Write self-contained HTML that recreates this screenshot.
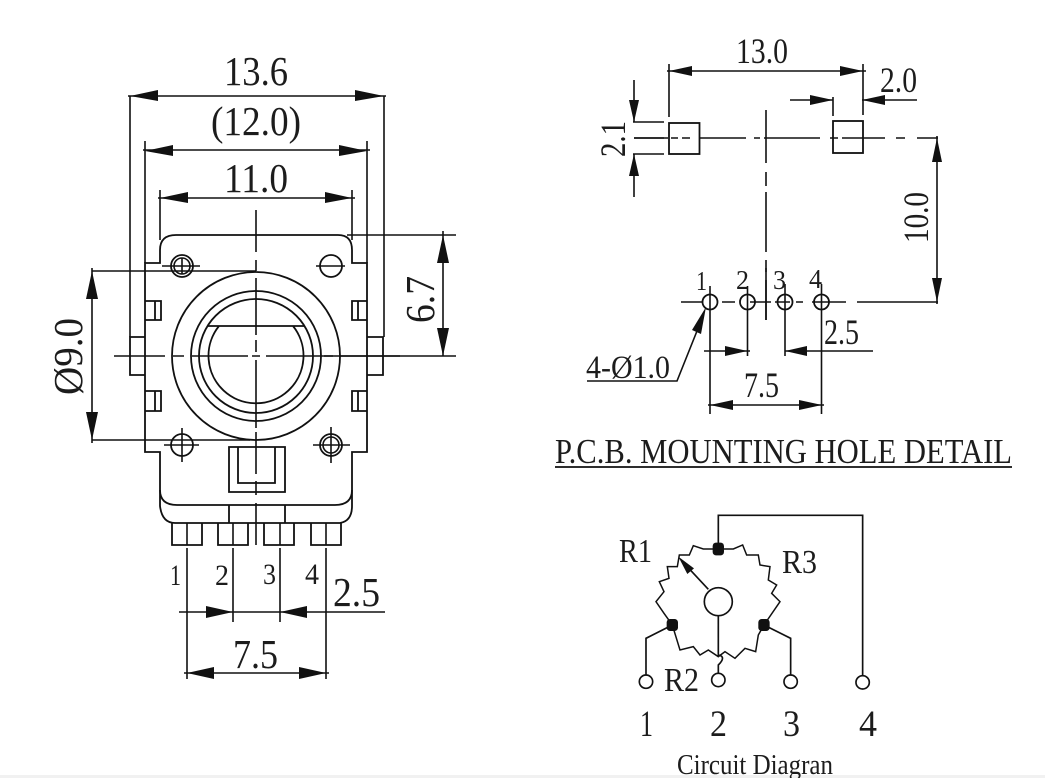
<!DOCTYPE html>
<html><head><meta charset="utf-8"><style>
html,body{margin:0;padding:0;background:#fff;width:1045px;height:778px;overflow:hidden}
svg{display:block}
text{font-family:"Liberation Serif",serif;fill:#1c1c1c}
.l{stroke:#111;stroke-width:1.8;fill:none}
.t{stroke:#111;stroke-width:1.6;fill:none}
.a{fill:#111;stroke:none}
</style></head><body>
<svg width="1045" height="778" viewBox="0 0 1045 778" xmlns="http://www.w3.org/2000/svg">
<rect width="1045" height="778" fill="#fff"/>
<rect x="0" y="775" width="1045" height="3" fill="#f1f1f1"/>

<!-- LEFT: body -->
<path class="l" d="M160 263V250Q160 235 176 235H338Q352 235 352 250V263H367V452H352V490Q352 505 335 505H177Q160 505 160 490V452H145V263Z"/>
<path class="l" d="M160 490V506Q162 523 175 523H340Q352 521 352 506V490"/>
<path class="l" d="M145 337H130V375H145M367 337H383V375H367"/>
<path class="l" d="M145 301H161V320H145M155 301V320M145 391H161V411H145M155 391V411"/>
<path class="l" d="M367 301H352V320H367M358 301V320M367 391H352V411H367M358 391V411"/>
<circle class="l" cx="256" cy="356" r="84"/>
<circle class="l" cx="256" cy="356" r="65"/>
<circle class="l" cx="256" cy="356" r="57"/>
<path class="l" d="M208 326H304M219 326A47.5 47.5 0 1 0 293 326"/>
<circle class="l" cx="182" cy="266" r="11"/><circle class="t" cx="182" cy="266" r="8"/>
<path class="t" d="M162 266H200M182 258V274"/>
<circle class="l" cx="331" cy="266" r="11"/><path class="t" d="M316 266H345"/>
<circle class="l" cx="182" cy="445" r="11"/><path class="t" d="M164 445H199M182 428V462"/>
<circle class="l" cx="331" cy="445" r="11"/><circle class="t" cx="331" cy="445" r="8"/><path class="t" d="M313 445H350M331 427V463"/>
<path class="l" d="M229 447H285V492H229ZM238 447V483H275V447M229 505V523M285 505V523"/>
<path class="l" d="M172 523V545H202V523M218 523V545H248V523M264 523V545H294V523M311 523V545H341V523"/>
<path class="t" d="M187 523V545M233 523V545M280 523V545M326 523V545"/>
<!-- center lines -->
<path class="t" d="M114 356H165M173 356H184M192 356H248M252 356H260M266 356H333M340 356H400"/>
<path class="t" d="M256 210V252M256 260V271M256 278V335M256 340V352M256 360V410M256 410V428M256 432V474M256 481V495M256 503V545"/>

<!-- left dims -->
<path class="t" d="M130 96V337M384 96V337M128 96H386"/>
<path class="t" d="M145 141V263M367 141V263M143 150H370"/>
<path class="t" d="M160 190V240M352 190V240M158 198H355"/>
<polygon class="a" points="130,96 158,90 158,101"/><polygon class="a" points="384,96 355,90 355,101"/>
<polygon class="a" points="145,151 173,145 173,156"/><polygon class="a" points="367,151 339,145 339,156"/>
<polygon class="a" points="160,198 188,192 188,203"/><polygon class="a" points="352,198 325,192 325,203"/>
<text x="224" y="85" font-size="41" textLength="64" lengthAdjust="spacingAndGlyphs">13.6</text>
<text x="211" y="135" font-size="41" textLength="90" lengthAdjust="spacingAndGlyphs">(12.0)</text>
<text x="224" y="192" font-size="41" textLength="64" lengthAdjust="spacingAndGlyphs">11.0</text>

<path class="t" d="M347 235H456M324 356H456M443 231V356"/>
<polygon class="a" points="443,235 437,263 449,263"/><polygon class="a" points="443,356 437,328 449,328"/>
<text transform="translate(434,323) rotate(-90)" font-size="41" textLength="47" lengthAdjust="spacingAndGlyphs">6.7</text>

<path class="t" d="M92 271H256M92 440H250M92 268V443"/>
<polygon class="a" points="92,271 86,299 98,299"/><polygon class="a" points="92,440 86,412 98,412"/>
<text transform="translate(82,395) rotate(-90)" font-size="41" textLength="77" lengthAdjust="spacingAndGlyphs">Ø9.0</text>

<path class="t" d="M187 548V679M233 548V622M280 548V622M326 548V679M179 612H385M184 673H329"/>
<polygon class="a" points="233,612 206,606 206,618"/><polygon class="a" points="280,612 307,606 307,618"/>
<polygon class="a" points="187,673 214,667 214,679"/><polygon class="a" points="326,673 299,667 299,679"/>
<text x="170" y="585" font-size="30" textLength="11" lengthAdjust="spacingAndGlyphs">1</text>
<text x="215" y="585" font-size="30" textLength="14" lengthAdjust="spacingAndGlyphs">2</text>
<text x="263" y="584" font-size="30" textLength="13" lengthAdjust="spacingAndGlyphs">3</text>
<text x="305" y="584" font-size="30" textLength="14" lengthAdjust="spacingAndGlyphs">4</text>
<text x="333" y="606" font-size="41" textLength="47" lengthAdjust="spacingAndGlyphs">2.5</text>
<text x="233" y="668" font-size="41" textLength="45" lengthAdjust="spacingAndGlyphs">7.5</text>

<!-- RIGHT top -->
<rect class="l" x="669" y="123" width="30.5" height="31"/>
<rect class="l" x="833" y="121" width="30" height="32"/>
<path class="t" d="M634 138H668M671 138H678M682 138H690M699 138H746M754 138H760M764 138H820M830 138H838M842 138H885M896 138H905M917 138H938"/>
<path class="t" d="M766 110V163M766 172V186M766 192V252M766 260V272M766 280V320"/>
<path class="t" d="M669 64V117M863 64V115M667 71H866"/>
<polygon class="a" points="669,71 692,66 692,76"/><polygon class="a" points="863,71 840,66 840,76"/>
<text x="736" y="63" font-size="36" textLength="52" lengthAdjust="spacingAndGlyphs">13.0</text>

<path class="t" d="M790 100H833M833 97V116M862 100H917"/>
<polygon class="a" points="833,100 810,95 810,105"/><polygon class="a" points="862,100 885,95 885,105"/>
<text x="880" y="92" font-size="36" textLength="37" lengthAdjust="spacingAndGlyphs">2.0</text>

<path class="t" d="M634 80V122M634 154V197M633 122H664M633 154H664"/>
<path class="t" d="M634 138H664"/>
<polygon class="a" points="634,122 629,100 639,100"/><polygon class="a" points="634,154 629,176 639,176"/>
<text transform="translate(625,157) rotate(-90)" font-size="36" textLength="36" lengthAdjust="spacingAndGlyphs">2.1</text>

<path class="t" d="M937 136V304"/>
<polygon class="a" points="937,138 932,162 942,162"/><polygon class="a" points="937,302 932,278 942,278"/>
<text transform="translate(928,243) rotate(-90)" font-size="36" textLength="51" lengthAdjust="spacingAndGlyphs">10.0</text>

<!-- holes -->
<path class="t" d="M681 302H703M722 302H735M750 302H771M775 302H790M796 302H803M812 302H846M857 302H938"/>
<path class="t" d="M766 268V320"/>
<circle class="l" cx="710" cy="302" r="7.5"/><circle class="l" cx="747.5" cy="302" r="7.5"/>
<circle class="l" cx="785" cy="302" r="7.5"/><circle class="l" cx="821.5" cy="302" r="7.5"/>
<path class="t" d="M710 286V414M747.5 286V356M785 284V356M821.5 284V414"/>
<text x="696" y="290" font-size="27" textLength="11" lengthAdjust="spacingAndGlyphs">1</text>
<text x="736" y="289" font-size="27" textLength="13" lengthAdjust="spacingAndGlyphs">2</text>
<text x="773" y="289" font-size="27" textLength="13" lengthAdjust="spacingAndGlyphs">3</text>
<text x="809" y="288" font-size="27" textLength="13" lengthAdjust="spacingAndGlyphs">4</text>
<path class="t" d="M704 351H750M785 351H873M708 405H824"/>
<polygon class="a" points="747.5,351 725,346 725,356"/><polygon class="a" points="785,351 807,346 807,356"/>
<polygon class="a" points="710,405 733,400 733,410"/><polygon class="a" points="822,405 799,400 799,410"/>
<text x="824" y="344" font-size="36" textLength="35" lengthAdjust="spacingAndGlyphs">2.5</text>
<text x="744" y="397" font-size="36" textLength="35" lengthAdjust="spacingAndGlyphs">7.5</text>
<path class="t" d="M587 381H677L703 316"/>
<polygon class="a" points="706,307 692,330 701,334"/>
<text x="586" y="378" font-size="33" textLength="84" lengthAdjust="spacingAndGlyphs">4-Ø1.0</text>

<text x="555" y="463" font-size="35" textLength="457" lengthAdjust="spacingAndGlyphs">P.C.B. MOUNTING HOLE DETAIL</text>
<path class="l" d="M555 467H1012"/>

<!-- circuit -->
<g transform="translate(590,500) scale(0.3333)">
<path fill="none" stroke="#111" stroke-width="4.5" d="M385 147L340 147L310 137L298 165L268 165L262 200L232 200L237 235L208 245L222 275L198 305L222 340L247 375L270 450L310 440L330 465L355 450L385 470L405 455L435 475L465 445L497 455L505 405L522 375L570 305L545 280L560 255L535 240L540 200L510 195L505 165L470 165L458 135L430 147L385 147"/>
<path fill="none" stroke="#111" stroke-width="5" d="M385 147V46H818V525M247 375L168 415V525M522 375L602 415V525M385 347V465Q410 470 385 495V520M355 268L275 182"/>
<circle cx="385" cy="305" r="42" fill="#fff" stroke="#111" stroke-width="5"/>
<circle cx="168" cy="545" r="20" fill="#fff" stroke="#111" stroke-width="5"/>
<circle cx="385" cy="540" r="20" fill="#fff" stroke="#111" stroke-width="5"/>
<circle cx="602" cy="545" r="20" fill="#fff" stroke="#111" stroke-width="5"/>
<circle cx="818" cy="547" r="20" fill="#fff" stroke="#111" stroke-width="5"/>
<rect x="368" y="128" width="34" height="38" rx="10" fill="#111"/>
<rect x="230" y="357" width="34" height="36" rx="10" fill="#111"/>
<rect x="505" y="357" width="34" height="36" rx="10" fill="#111"/>
<polygon class="a" points="265,170 312,205 292,222"/>
</g>
<text x="619" y="562" font-size="34" textLength="33" lengthAdjust="spacingAndGlyphs">R1</text>
<text x="782" y="573" font-size="34" textLength="35" lengthAdjust="spacingAndGlyphs">R3</text>
<text x="664" y="691" font-size="34" textLength="35" lengthAdjust="spacingAndGlyphs">R2</text>
<text x="640" y="736" font-size="37" textLength="13" lengthAdjust="spacingAndGlyphs">1</text>
<text x="710" y="736" font-size="37" textLength="17" lengthAdjust="spacingAndGlyphs">2</text>
<text x="783" y="736" font-size="37" textLength="17" lengthAdjust="spacingAndGlyphs">3</text>
<text x="859" y="736" font-size="37" textLength="18" lengthAdjust="spacingAndGlyphs">4</text>
<text x="677" y="774" font-size="29" textLength="156" lengthAdjust="spacingAndGlyphs">Circuit Diagran</text>
</svg>
</body></html>
